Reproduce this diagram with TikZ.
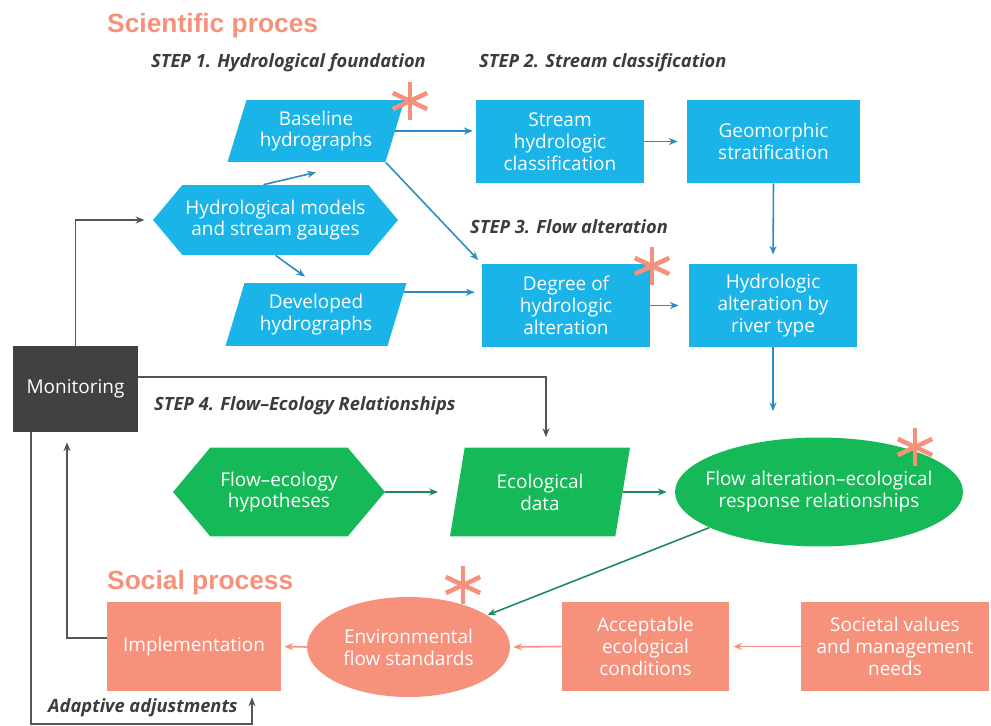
\documentclass[tikz,border=0pt]{standalone}
\usepackage{fontspec}
\usepackage{tikz}
\usepackage{xcolor}
\setmainfont{Open Sans}
\newfontfamily\headfont{Liberation Sans}
\usetikzlibrary{calc}
\usetikzlibrary{positioning}
\usetikzlibrary{shapes.geometric}
\usetikzlibrary{shapes.symbols}
\usetikzlibrary{arrows.meta}

\definecolor{sciblue}{HTML}{1AB4E8}
\definecolor{blueline}{HTML}{2B8CC2}
\definecolor{ecogreen}{HTML}{16B957}
\definecolor{greenline}{HTML}{1D8A55}
\definecolor{salmon}{HTML}{F6917C}
\definecolor{monigray}{HTML}{414141}
\definecolor{linegray}{HTML}{555555}
\definecolor{steptext}{HTML}{3C3C3C}

\tikzset{
  box/.style={text=white, align=center, inner sep=0pt, font=\fontsize{10.8}{12.4}\selectfont},
  rectbox/.style={box, rectangle, minimum width=3.36cm, minimum height=1.66cm},
  parbox/.style={box, trapezium, trapezium left angle=#1, trapezium right angle=180-#1, trapezium stretches body},
  hexbox/.style={box, signal, signal to=west and east, signal pointer angle=100},
  ovalbox/.style={box, ellipse},
  steplabel/.style={anchor=west, text=steptext, font=\fontsize{10.4}{12}\selectfont\bfseries\itshape},
  headlabel/.style={anchor=west, text=salmon, font=\fontsize{15}{18}\selectfont\headfont\bfseries},
  arr/.style={line width=0.9pt, -{Stealth[length=5pt,width=4pt]}},
  barrow/.style={arr, blueline},
  garrow/.style={arr, greenline},
  sarrow/.style={arr, salmon},
  karrow/.style={arr, linegray, line width=1.1pt},
}

\newcommand{\astmark}[1]{%
  \draw[salmon, line width=2.6pt] (#1) ++(90:19) -- ++(270:38);
  \draw[salmon, line width=2.6pt] (#1) ++(25:19) -- ++(205:38);
  \draw[salmon, line width=2.6pt] (#1) ++(155:19) -- ++(335:38);
}

\begin{document}
\begin{tikzpicture}[x=0.02cm,y=-0.02cm]
\useasboundingbox (0,0) rectangle (991,726);

\node[headlabel] (scihead) at (101,26) {Scientific proces};
\node[steplabel] (step1) at (145,63) {STEP 1. Hydrological foundation};
\node[steplabel] (step2) at (473,63) {STEP 2. Stream classification};
\node[steplabel] (step3) at (464,227) {STEP 3. Flow alteration};
\node[steplabel] (step4) at (148,406) {STEP 4. Flow--Ecology Relationships};
\node[headlabel] (sochead) at (101,583) {Social process};
\node[steplabel] (adjlabel) at (42,708) {Adaptive adjustments};

% step 1-3
\node[parbox=65, fill=sciblue, minimum width=3.54cm, minimum height=1.24cm] (base) at (316,131) {Baseline\\hydrographs};
\node[hexbox, fill=sciblue, minimum width=4.9cm, minimum height=1.4cm] (hydmod) at (275.5,220) {Hydrological models\\and stream gauges};
\node[parbox=65, fill=sciblue, minimum width=3.62cm, minimum height=1.26cm] (dev) at (316,314.5) {Developed\\hydrographs};
\node[rectbox, fill=sciblue] (stream) at (560,141.5) {Stream\\hydrologic\\classification};
\node[rectbox, fill=sciblue, minimum width=3.46cm] (geo) at (773.5,141.5) {Geomorphic\\stratification};
\node[rectbox, fill=sciblue] (degree) at (566,305.5) {Degree of\\hydrologic\\alteration};
\node[rectbox, fill=sciblue] (hydalt) at (773,305.5) {Hydrologic\\alteration by\\river type};

\node[rectbox, fill=monigray, minimum width=2.5cm, minimum height=1.72cm] (mon) at (75.5,389) {Monitoring};

% step 4
\node[hexbox, fill=ecogreen, minimum width=4.24cm, minimum height=1.78cm] (hypo) at (279,492) {Flow--ecology\\hypotheses};
\node[parbox=68, fill=ecogreen, minimum width=3.6cm, minimum height=1.78cm] (ecodata) at (540,492) {Ecological\\data};
\node[ovalbox, fill=ecogreen, minimum width=5.76cm, minimum height=2.18cm] (flowalt) at (819,492)
  {\makebox[0pt]{\begin{tabular}{@{}c@{}}Flow alteration--ecological\\response relationships\end{tabular}}};

% social
\node[rectbox, fill=salmon, minimum width=3.48cm, minimum height=1.78cm] (impl) at (194,646.5) {Implementation};
\node[ovalbox, fill=salmon, minimum width=4.06cm, minimum height=2cm] (envflow) at (408.5,647) {Environmental\\flow standards};
\node[rectbox, fill=salmon, minimum width=3.34cm, minimum height=1.78cm] (acc) at (645.5,646.5) {Acceptable\\ecological\\conditions};
\node[rectbox, fill=salmon, minimum width=3.76cm, minimum height=1.78cm] (soc) at (895,646.5) {Societal values\\and management\\needs};

\astmark{410,101}
\astmark{652,266}
\astmark{915,447}
\astmark{463,585}

% arrows
\draw[karrow, shorten >=0.16cm] (mon.north) |- (hydmod.west);
\draw[barrow] ([xshift=-0.24cm]hydmod.north) -- ([yshift=-0.2cm]base.south);
\draw[barrow] (hydmod.south) -- ([xshift=-0.22cm,yshift=0.12cm]dev.north);
\draw[barrow, shorten >=0.06cm] (base.east) -- (base.east -| stream.west);
\draw[barrow, shorten >=0.18cm] (stream.east) -- (geo.west);
\draw[barrow, shorten >=0.1cm] (base.bottom right corner) -- (degree.north west);
\coordinate (devout) at ($(dev.top right corner)!0.15!(dev.bottom right corner)$);
\draw[barrow, shorten >=0.14cm] (devout) -- (devout -| degree.west);
\draw[barrow, shorten >=0.2cm] (degree.east) -- (hydalt.west);
\draw[barrow, shorten >=0.18cm] (geo.south) -- (hydalt.north);
\draw[barrow, shorten >=0.52cm] (hydalt.south) -- (hydalt.south |- flowalt.north);

\draw[karrow, shorten >=0.2cm] ([yshift=0.24cm]mon.east) -| ([xshift=0.12cm]ecodata.north);
\draw[garrow, shorten >=0.38cm] (hypo.east) -- (hypo.east -| ecodata.west);
\draw[garrow, shorten >=0.16cm] (ecodata.east) -- (flowalt.west);
\draw[garrow] (flowalt.198) -- (envflow.22);

\draw[sarrow, shorten >=0.08cm] (soc.west) -- (acc.east);
\draw[sarrow, shorten >=0.06cm] (acc.west) -- (envflow.east);
\draw[sarrow, shorten >=0.06cm] (envflow.west) -- (impl.east);

\draw[karrow, shorten >=0.2cm] ([yshift=0.17cm]impl.west) -| ([xshift=-0.17cm]mon.south);
\coordinate (adjcorner) at (252,724);
\draw[karrow] ([xshift=-0.89cm]mon.south) |- (adjcorner) -- ([yshift=-0.12cm]impl.south -| adjcorner);
\end{tikzpicture}
\end{document}
